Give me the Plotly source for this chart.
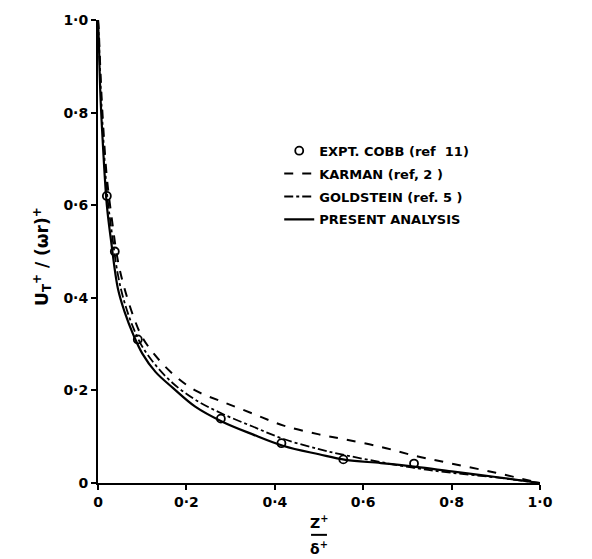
import plotly.graph_objects as go

# ---- data ----
expt_x = [0.02, 0.038, 0.09, 0.278, 0.415, 0.555, 0.715]
expt_y = [0.62, 0.50, 0.31, 0.139, 0.086, 0.051, 0.042]

curve_x = [0, 0.002, 0.005, 0.01, 0.02, 0.03, 0.045, 0.06, 0.08, 0.1, 0.13, 0.17,
           0.22, 0.28, 0.35, 0.42, 0.5, 0.56, 0.64, 0.72, 0.8, 0.9, 1.0]
karman_y = [1.0, 0.97, 0.9, 0.8, 0.66, 0.58, 0.48, 0.42, 0.36, 0.315, 0.275, 0.235,
            0.2, 0.176, 0.15, 0.124, 0.105, 0.094, 0.078, 0.058, 0.042, 0.022, 0.0]
goldstein_y = [1.0, 0.96, 0.88, 0.78, 0.63, 0.55, 0.45, 0.39, 0.335, 0.295, 0.255, 0.215,
               0.18, 0.15, 0.122, 0.095, 0.073, 0.06, 0.045, 0.032, 0.022, 0.012, 0.0]
present_y = [1.0, 0.95, 0.85, 0.75, 0.6, 0.52, 0.42, 0.37, 0.32, 0.28, 0.24, 0.205,
             0.165, 0.133, 0.105, 0.08, 0.062, 0.05, 0.043, 0.035, 0.025, 0.013, 0.0]

x_ticks = [0, 0.2, 0.4, 0.6, 0.8, 1.0]
x_ticklabels = ["<b>0</b>", "<b>0·2</b>", "<b>0·4</b>", "<b>0·6</b>", "<b>0·8</b>", "<b>1·0</b>"]
y_ticks = [0, 0.2, 0.4, 0.6, 0.8, 1.0]
y_ticklabels = ["<b>0</b>", "<b>0·2</b>", "<b>0·4</b>", "<b>0·6</b>", "<b>0·8</b>", "<b>1·0</b>"]

FONT = "DejaVu Sans, sans-serif"

fig = go.Figure()
fig.add_trace(go.Scatter(x=expt_x, y=expt_y, mode="markers", name="<b>EXPT. COBB (ref  11)</b>",
                         legendgroup="a",
                         marker=dict(symbol="circle-open", size=8, color="black",
                                     line=dict(width=1.8, color="black"))))
fig.add_trace(go.Scatter(x=curve_x, y=karman_y, mode="lines", name="<b>KARMAN (ref, 2 )</b>",
                         legendgroup="b",
                         line=dict(color="black", width=2, dash="dash", shape="spline")))
fig.add_trace(go.Scatter(x=curve_x, y=goldstein_y, mode="lines", name="<b>GOLDSTEIN (ref. 5 )</b>",
                         legendgroup="c",
                         line=dict(color="black", width=1.8, dash="dashdot", shape="spline")))
fig.add_trace(go.Scatter(x=curve_x, y=present_y, mode="lines", name="<b>PRESENT ANALYSIS</b>",
                         legendgroup="d",
                         line=dict(color="black", width=2.2, shape="spline")))

fig.update_layout(
    width=592, height=559,
    margin=dict(l=98, r=52, t=18, b=76),
    paper_bgcolor="white", plot_bgcolor="white",
    font=dict(family=FONT, size=13, color="black"),
    showlegend=True,
    legend=dict(x=0.41, y=0.75, xanchor="left", yanchor="top",
                bgcolor="rgba(0,0,0,0)", font=dict(family=FONT, size=13, color="black"),
                itemwidth=30, tracegroupgap=3),
    xaxis=dict(range=[0, 1.0], tickvals=x_ticks, ticktext=x_ticklabels,
               showgrid=False, zeroline=False, showline=True, linecolor="black", linewidth=2,
               ticks="outside", ticklen=5, tickwidth=1.5, tickcolor="black",
               tickfont=dict(family=FONT, size=14, color="black")),
    yaxis=dict(range=[0, 1.0], tickvals=y_ticks, ticktext=y_ticklabels,
               showgrid=False, zeroline=False, showline=True, linecolor="black", linewidth=2,
               ticks="outside", ticklen=5, tickwidth=1.5, tickcolor="black",
               tickfont=dict(family=FONT, size=14, color="black")),
)

# axis titles
fig.add_annotation(xref="paper", yref="paper", x=-0.16, y=0.49,
                   text="<b>U<sub>T</sub><sup>+</sup> / (ωr)<sup>+</sup></b>", textangle=-90,
                   showarrow=False, font=dict(family=FONT, size=17, color="black"))
fig.add_annotation(xref="paper", yref="paper", x=0.5, y=-0.085, yanchor="middle",
                   text="<b>Z<sup>+</sup></b>", showarrow=False,
                   font=dict(family=FONT, size=14, color="black"))
fig.add_annotation(xref="paper", yref="paper", x=0.5, y=-0.14, yanchor="middle",
                   text="<b>δ<sup>+</sup></b>", showarrow=False,
                   font=dict(family=FONT, size=14, color="black"))
fig.add_shape(type="line", xref="paper", yref="paper", x0=0.482, x1=0.518,
              y0=-0.112, y1=-0.112, line=dict(color="black", width=2))

fig.write_html("out.html")
